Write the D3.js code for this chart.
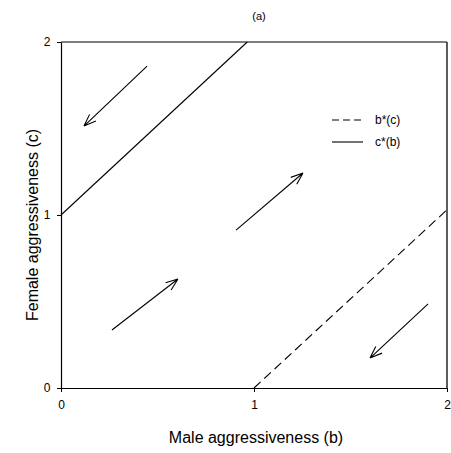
<!DOCTYPE html>
<html><head><meta charset="utf-8">
<script src="https://cdn.jsdelivr.net/npm/d3@7"></script>
<style>body{margin:0;background:#fff}svg{display:block;font-family:"Liberation Sans",Arial,sans-serif}</style>
</head><body>
<svg id="c" width="451" height="453"></svg>
<script>
const xTicks = [0, 1, 2];
const yTicks = [0, 1, 2];
const cStar = [[0, 1.0], [0.965, 2]];          // c*(b), solid
const bStar = [[1, 0], [2, 1.03]];             // b*(c), dashed
const arrows = [                               // [x0,y0,x1,y1]
  [0.446, 1.861, 0.119, 1.514],
  [0.907, 0.913, 1.254, 1.243],
  [0.264, 0.335, 0.606, 0.630],
  [1.902, 0.486, 1.601, 0.173]
];
const legendLabels = ["b*(c)", "c*(b)"];

const svg = d3.select("#c");
const x = d3.scaleLinear().domain([0, 2]).range([61, 447]);
const y = d3.scaleLinear().domain([0, 2]).range([388, 42]);

// frame
svg.append("line").attr("x1", x(0)).attr("x2", x(2)).attr("y1", y(2)).attr("y2", y(2)).attr("stroke", "#000").attr("stroke-width", 1.2);
svg.append("line").attr("x1", x(2)).attr("x2", x(2)).attr("y1", y(2)).attr("y2", y(0)).attr("stroke", "#333").attr("stroke-width", 1.6);

const xa = svg.append("g").attr("transform", `translate(0,${y(0)})`)
  .call(d3.axisBottom(x).tickValues(xTicks).tickFormat(d3.format("d")).tickSize(4).tickSizeOuter(0));
const ya = svg.append("g").attr("transform", `translate(${x(0)},0)`)
  .call(d3.axisLeft(y).tickValues(yTicks).tickFormat(d3.format("d")).tickSize(4).tickSizeOuter(0));
[xa, ya].forEach(a => {
  a.select(".domain").attr("stroke", "#000").attr("stroke-width", 1.2);
  a.selectAll(".tick line").attr("stroke", "#000");
  a.selectAll("text").attr("fill", "#000").attr("font-size", 12).attr("font-family", "Liberation Sans, Arial, sans-serif");
});
xa.selectAll("text").attr("dy", "1.2em");
ya.selectAll("text").attr("dx", "-0.3em");

const line = d3.line().x(d => x(d[0])).y(d => y(d[1]));
svg.append("path").attr("d", line(cStar)).attr("fill", "none").attr("stroke", "#000").attr("stroke-width", 1.1);
svg.append("path").attr("d", line(bStar)).attr("fill", "none").attr("stroke", "#000").attr("stroke-width", 1.1).attr("stroke-dasharray", "9,5");

// arrows with open heads
arrows.forEach(a => {
  const x0 = x(a[0]), y0 = y(a[1]), x1 = x(a[2]), y1 = y(a[3]);
  const ang = Math.atan2(y1 - y0, x1 - x0);
  const L = 13, spread = 0.36;
  const p = d3.path();
  p.moveTo(x0, y0); p.lineTo(x1, y1);
  [-spread, spread].forEach(s => {
    p.moveTo(x1, y1);
    p.lineTo(x1 - L * Math.cos(ang + s), y1 - L * Math.sin(ang + s));
  });
  svg.append("path").attr("d", p.toString()).attr("fill", "none").attr("stroke", "#000").attr("stroke-width", 1.1);
});

// legend
const lg = svg.append("g");
legendLabels.forEach((t, i) => {
  const yy = 120 + i * 22;
  lg.append("line").attr("x1", 332).attr("x2", 363).attr("y1", yy).attr("y2", yy)
    .attr("stroke", "#000").attr("stroke-width", 1.1).attr("stroke-dasharray", i === 0 ? "7,4" : null);
  lg.append("text").attr("x", 375).attr("y", yy).attr("dy", "0.35em").attr("font-size", 12).text(t);
});

// titles
svg.append("text").attr("x", 259).attr("y", 20).attr("text-anchor", "middle").attr("font-size", 11).text("(a)");
svg.append("text").attr("x", 256).attr("y", 443).attr("text-anchor", "middle").attr("font-size", 16).text("Male aggressiveness (b)");
svg.append("text").attr("transform", "translate(38,225) rotate(-90)").attr("text-anchor", "middle").attr("font-size", 16).text("Female aggressiveness (c)");
</script>
</body></html>
